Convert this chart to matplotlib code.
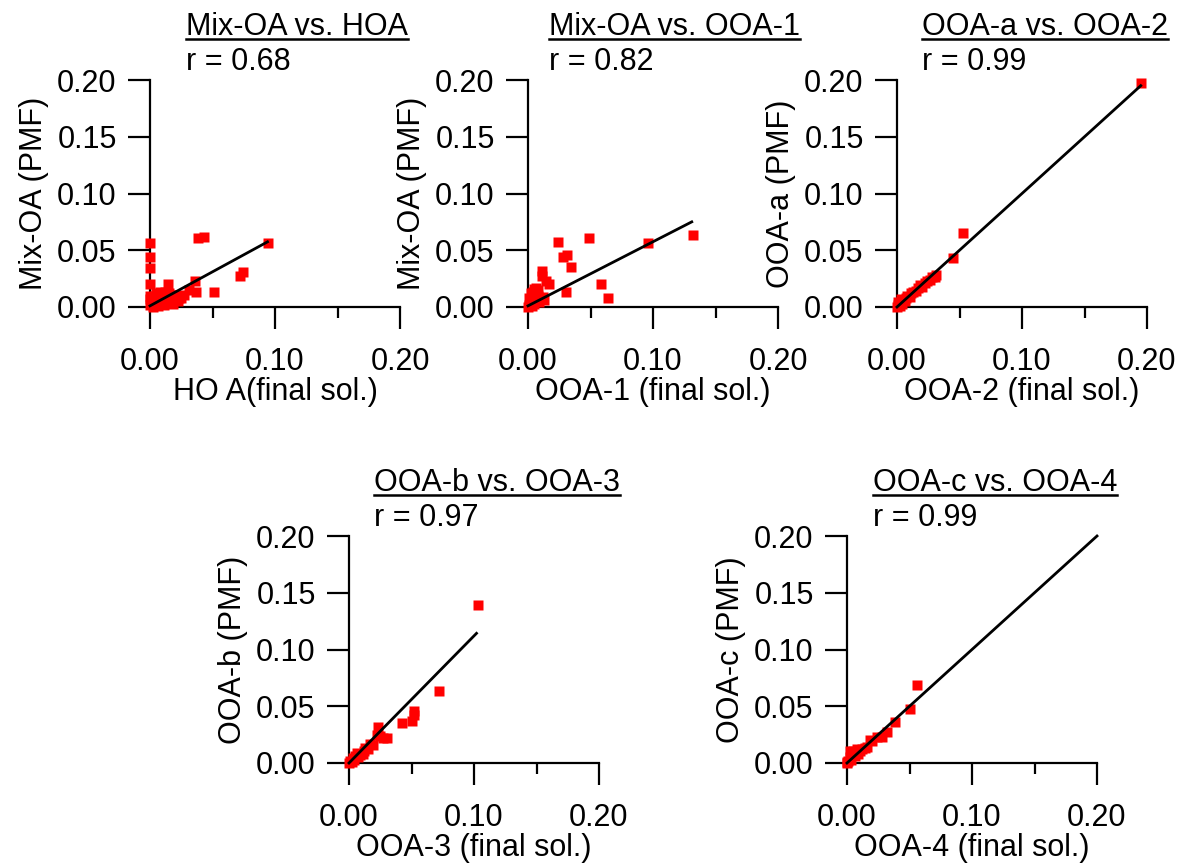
import numpy as np
import matplotlib
matplotlib.use("Agg")
import matplotlib.pyplot as plt
from matplotlib.lines import Line2D
from matplotlib.transforms import IdentityTransform

plt.rcParams['font.family'] = ['Liberation Sans', 'DejaVu Sans']
plt.rcParams['font.size'] = 22

# --- data ---
# panel 1: Mix-OA (PMF) vs HOA (final sol.)
hoa_x = [0.000, 0.001, 0.002, 0.003, 0.004, 0.005, 0.006, 0.007, 0.008, 0.009,
         0.010, 0.011, 0.012, 0.013, 0.014, 0.015, 0.016, 0.017, 0.018, 0.019,
         0.020, 0.021, 0.022, 0.023, 0.000, 0.000, 0.002, 0.005, 0.008, 0.012,
         0.018, 0.022, 0.000, 0.000, 0.000, 0.000, 0.038, 0.043, 0.094, 0.074,
         0.072, 0.051, 0.037, 0.036, 0.031, 0.014, 0.025, 0.027]
mixoa1_y = [0.002, 0.005, 0.008, 0.003, 0.010, 0.006, 0.001, 0.009, 0.004, 0.011,
            0.007, 0.002, 0.010, 0.005, 0.008, 0.012, 0.006, 0.009, 0.003, 0.011,
            0.007, 0.010, 0.005, 0.008, 0.010, 0.007, 0.000, 0.012, 0.013, 0.013,
            0.011, 0.010, 0.056, 0.044, 0.034, 0.020, 0.061, 0.062, 0.056, 0.031,
            0.027, 0.013, 0.013, 0.023, 0.015, 0.020, 0.008, 0.011]

# panel 2: Mix-OA (PMF) vs OOA-1 (final sol.)
ooa1_x = [0.000, 0.001, 0.002, 0.003, 0.004, 0.005, 0.006, 0.007, 0.008, 0.009,
          0.010, 0.012, 0.013, 0.003, 0.004, 0.005, 0.006, 0.002, 0.001, 0.008,
          0.132, 0.096, 0.049, 0.024, 0.028, 0.031, 0.034, 0.011, 0.011, 0.014,
          0.017, 0.030, 0.058, 0.064]
mixoa2_y = [0.000, 0.002, 0.004, 0.001, 0.006, 0.003, 0.008, 0.005, 0.010, 0.004,
            0.007, 0.009, 0.006, 0.010, 0.013, 0.016, 0.017, 0.012, 0.008, 0.015,
            0.063, 0.056, 0.061, 0.057, 0.044, 0.046, 0.035, 0.032, 0.027, 0.023,
            0.020, 0.013, 0.020, 0.008]

# panel 3: OOA-a (PMF) vs OOA-2 (final sol.)
ooa2_x = [0.000, 0.001, 0.002, 0.003, 0.004, 0.005, 0.006, 0.007, 0.008, 0.010,
          0.011, 0.013, 0.015, 0.017, 0.018, 0.020, 0.022, 0.024, 0.026, 0.028,
          0.030, 0.031, 0.045, 0.053, 0.195, 0.001, 0.003]
ooaa_y = [0.000, 0.002, 0.001, 0.004, 0.003, 0.006, 0.005, 0.008, 0.010, 0.009,
          0.012, 0.013, 0.014, 0.017, 0.019, 0.018, 0.021, 0.023, 0.024, 0.026,
          0.026, 0.028, 0.043, 0.065, 0.197, 0.004, 0.007]

# panel 4: OOA-b (PMF) vs OOA-3 (final sol.)
ooa3_x = [0.000, 0.001, 0.002, 0.003, 0.004, 0.005, 0.006, 0.007, 0.008, 0.009,
          0.011, 0.012, 0.013, 0.015, 0.017, 0.019, 0.022, 0.023, 0.025, 0.027,
          0.030, 0.042, 0.050, 0.052, 0.052, 0.072, 0.103]
ooab_y = [0.000, 0.002, 0.001, 0.004, 0.003, 0.006, 0.009, 0.005, 0.008, 0.007,
          0.008, 0.011, 0.013, 0.012, 0.017, 0.016, 0.025, 0.032, 0.024, 0.022,
          0.022, 0.035, 0.037, 0.042, 0.046, 0.063, 0.139]

# panel 5: OOA-c (PMF) vs OOA-4 (final sol.)
ooa4_x = [0.000, 0.000, 0.001, 0.002, 0.002, 0.003, 0.004, 0.005, 0.006, 0.007,
          0.008, 0.009, 0.010, 0.012, 0.014, 0.016, 0.018, 0.020, 0.024, 0.028,
          0.032, 0.038, 0.050, 0.056]
ooac_y = [0.000, 0.001, 0.002, 0.005, 0.011, 0.003, 0.009, 0.011, 0.006, 0.010,
          0.012, 0.008, 0.011, 0.012, 0.013, 0.014, 0.020, 0.019, 0.023, 0.023,
          0.027, 0.036, 0.048, 0.069]

# fitted lines: slope, intercept, x end
fit_slope = [0.60, 0.565, 1.0, 1.12, 1.0]
fit_icpt = [0.001, 0.001, 0.0, 0.0, 0.0]
fit_xend = [0.094, 0.131, 0.195, 0.102, 0.20]

titles = ["Mix-OA vs. HOA", "Mix-OA vs. OOA-1", "OOA-a vs. OOA-2",
          "OOA-b vs. OOA-3", "OOA-c vs. OOA-4"]
r_vals = [0.68, 0.82, 0.99, 0.97, 0.99]
xlabels = ["HO A(final sol.)", "OOA-1 (final sol.)", "OOA-2 (final sol.)",
           "OOA-3 (final sol.)", "OOA-4 (final sol.)"]
ylabels = ["Mix-OA (PMF)", "Mix-OA (PMF)", "OOA-a (PMF)",
           "OOA-b (PMF)", "OOA-c (PMF)"]
xs = [hoa_x, ooa1_x, ooa2_x, ooa3_x, ooa4_x]
ys = [mixoa1_y, mixoa2_y, ooaa_y, ooab_y, ooac_y]

W, H = 1182, 867
fig = plt.figure(figsize=(W / 100, H / 100), dpi=100)

# axes boxes in pixels: left, top of plot area
boxes = [(150, 80), (528, 80), (897, 80), (349, 536), (847, 536)]
title_dx = [0.144, 0.084, 0.100, 0.100, 0.104]
aw, ah = 250, 227

axes = []
for i in range(5):
    l, t = boxes[i]
    ax = fig.add_axes([l / W, 1 - (t + ah) / H, aw / W, ah / H])
    axes.append(ax)
    ax.plot(xs[i], ys[i], 's', color='red', ms=6.5, mec='none', clip_on=False, zorder=3)
    xx = np.array([0.0, fit_xend[i]])
    ax.plot(xx, fit_slope[i] * xx + fit_icpt[i], '-', color='black', lw=2,
            clip_on=False, zorder=4)
    ax.set_xlim(0, 0.2)
    ax.set_ylim(0, 0.2)
    for s in ['top', 'right']:
        ax.spines[s].set_visible(False)
    for s in ['left', 'bottom']:
        ax.spines[s].set_linewidth(1.6)
    ax.set_xticks([0, 0.1, 0.2])
    ax.set_xticklabels(['0.00', '0.10', '0.20'])
    ax.set_xticks([0.05, 0.15], minor=True)
    ax.set_yticks([0, 0.05, 0.10, 0.15, 0.20])
    ax.set_yticklabels(['0.00', '0.05', '0.10', '0.15', '0.20'])
    ax.tick_params(axis='both', which='major', direction='out', width=1.6, color='black')
    ax.tick_params(axis='x', which='major', length=16, pad=13)
    ax.tick_params(axis='x', which='minor', direction='out', length=8, width=1.6)
    ax.tick_params(axis='y', which='major', length=16, pad=8)
    ax.set_xlabel(xlabels[i], labelpad=0)
    ax.set_ylabel(ylabels[i], labelpad=6)
    ax.text(title_dx[i], 1.198, titles[i], transform=ax.transAxes,
            ha='left', va='baseline')
    ax.text(title_dx[i], 1.044, "r = %.2f" % r_vals[i], transform=ax.transAxes,
            ha='left', va='baseline')

# underline the titles
fig.canvas.draw()
renderer = fig.canvas.get_renderer()
for i, ax in enumerate(axes):
    t = ax.texts[0]
    bb = t.get_window_extent(renderer)
    x0, yb = ax.transAxes.transform((title_dx[i], 1.198))
    fig.add_artist(Line2D([bb.x0, bb.x1], [yb - 4, yb - 4], color='black',
                          lw=1.8, transform=IdentityTransform()))

fig.savefig("out.png", dpi=100)
